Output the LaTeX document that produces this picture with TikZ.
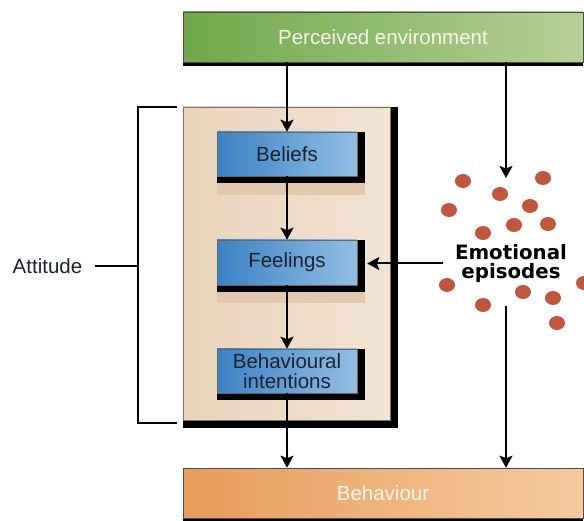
\documentclass[tikz,border=0pt]{standalone}
\usepackage{fontspec}
\setmainfont{Liberation Sans}
\newfontfamily\emofont{DejaVu Sans}
\usetikzlibrary{arrows.meta}
\definecolor{greenL}{RGB}{112,168,74}
\definecolor{greenR}{RGB}{182,208,152}
\definecolor{blueL}{RGB}{60,130,196}
\definecolor{blueR}{RGB}{146,190,228}
\definecolor{beigeL}{RGB}{233,211,188}
\definecolor{beigeR}{RGB}{243,228,212}
\definecolor{tanband}{RGB}{226,201,174}
\definecolor{orangeL}{RGB}{231,156,92}
\definecolor{orangeR}{RGB}{245,202,158}
\definecolor{dotred}{RGB}{192,86,62}
\definecolor{txtdark}{RGB}{28,34,48}
\definecolor{txtlight}{RGB}{248,246,232}
\begin{document}
\begin{tikzpicture}[x=1pt,y=-1pt,
  font=\fontsize{20.5}{20}\selectfont,
  arr/.style={line width=2pt,-{Stealth[length=12pt,width=13pt,inset=2.5pt]}},
  plainline/.style={line width=2pt},
  widebox/.style={draw=black!70, line width=0.6pt, minimum width=400pt, minimum height=50pt, inner sep=0pt, text=txtlight},
  bluebox/.style={draw=black!60, line width=0.6pt, left color=blueL, right color=blueR, minimum width=140pt, minimum height=44pt, inner sep=0pt, align=center, text=txtdark},
  shadowbox/.style={fill=black},
  band/.style={fill=tanband},
  dotstyle/.style={fill=dotred}
]
\useasboundingbox (0,0) rectangle (584,521);

% shadows
\fill[shadowbox] (183,12) rectangle (583,66);
\fill[shadowbox] (183,107) rectangle (398,428);
\fill[shadowbox] (183,468) rectangle (583,521);

% top and bottom boxes
\node[widebox, left color=greenL, right color=greenR] (pe) at (383,37) {Perceived environment};
\node[widebox, left color=orangeL, right color=orangeR] (beh) at (383,493) {Behaviour};

% attitude panel
\node[draw=black!55, line width=0.6pt, left color=beigeL, right color=beigeR, minimum width=207pt, minimum height=313pt, inner sep=0pt] (panel) at (286.5,263.5) {};

% box shadows and bands
\fill[band] (217,183) rectangle (365,195);
\fill[band] (217,292) rectangle (365,303);
\fill[shadowbox] (217,132) rectangle (365,183);
\fill[shadowbox] (217,240) rectangle (365,292);
\fill[shadowbox] (217,349) rectangle (365,400);

\node[bluebox] (beliefs) at (287,154) {Beliefs};
\node[bluebox, minimum height=45pt] (feelings) at (287,262.5) {Feelings};
\node[bluebox] (bi) at (287,371) {Behavioural\\intentions};

% emotional episodes dots
\foreach \px/\py in {463/181, 543/178, 500/194, 449/210, 530/206, 514/225, 548/224, 483/233, 447/285, 523/292, 553/298, 584/283, 483/305, 557/323}
  \fill[dotstyle] (\px,\py) ellipse [x radius=8pt, y radius=7pt];

\node[font=\emofont\bfseries\fontsize{19.8}{19}\selectfont, align=center, inner xsep=11.5pt, inner ysep=0pt, text=black] (emo) at (511,263.5) {Emotional\\episodes};

% attitude label and bracket
\node[text=txtdark, inner xsep=0pt] (att) at (47.5,266) {Attitude};
\coordinate (tickstart) at (95,266);
\coordinate (brk) at (138,266);
\draw[plainline] (177,107) -| (138,423) -- (177,423);
\draw[plainline] (tickstart) -- (brk);

% connectors
\coordinate (emoIn) at (506,178);
\coordinate (emoOut) at (506,306);
\coordinate (fin) at ([xshift=10pt]feelings.east);
\draw[arr] (pe.south -| beliefs.north) -- (beliefs.north);
\draw[arr] (beliefs.south) -- (feelings.north);
\draw[arr] (feelings.south) -- (bi.north);
\draw[arr] (bi.south) -- (bi.south |- beh.north);
\draw[arr] (pe.south -| emoIn) -- (emoIn);
\draw[arr] (emoOut) -- (emoOut |- beh.north);
\draw[arr] (emo.west) -- (fin |- emo.west);
\end{tikzpicture}
\end{document}
